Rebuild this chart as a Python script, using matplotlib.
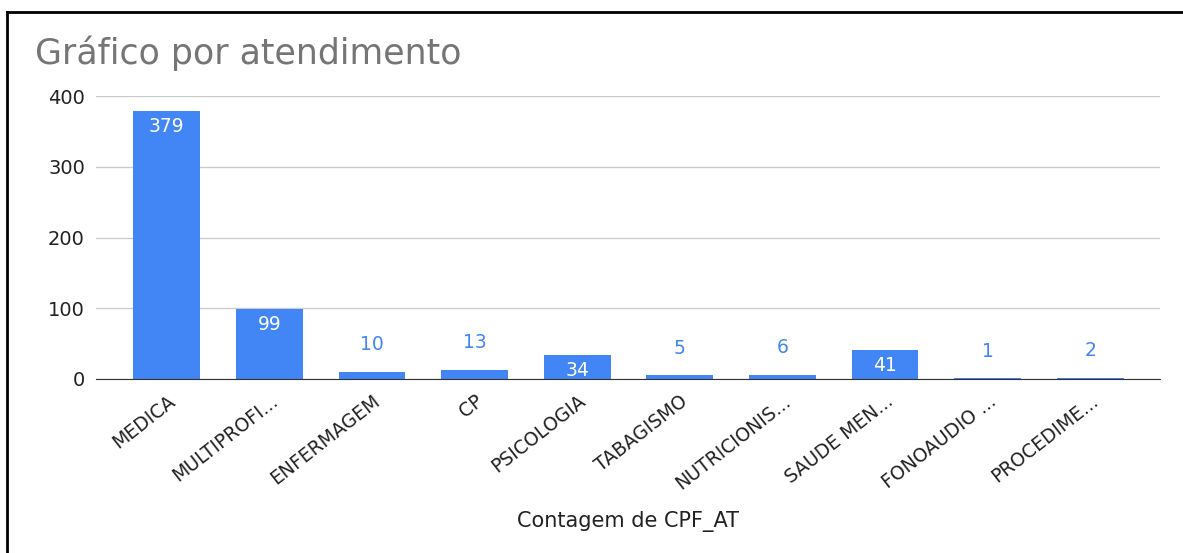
import numpy as np
import matplotlib.pyplot as plt
from matplotlib.lines import Line2D

categories = ['MEDICA', 'MULTIPROFI...', 'ENFERMAGEM', 'CP', 'PSICOLOGIA',
              'TABAGISMO', 'NUTRICIONIS...', 'SAUDE MEN...', 'FONOAUDIO ...',
              'PROCEDIME...']
counts = [379, 99, 10, 13, 34, 5, 6, 41, 1, 2]
yticks = [0, 100, 200, 300, 400]

blue = '#4285F4'
plt.rcParams['font.family'] = ['DejaVu Sans']

fig = plt.figure(figsize=(11.83, 5.53), dpi=100)
ax = fig.add_axes([96 / 1183, 1 - 379 / 553, (1160 - 96) / 1183, (379 - 96) / 553])

x = np.arange(len(categories))
ax.bar(x, counts, width=0.65, color=blue, zorder=3)

for xi, v in zip(x, counts):
    if v > 20:
        ax.annotate(str(v), (xi, v), xytext=(0, -11.5), textcoords='offset points',
                    ha='center', va='center', color='white', fontsize=13.5, zorder=4)
    else:
        ax.annotate(str(v), (xi, v), xytext=(0, 19.5), textcoords='offset points',
                    ha='center', va='center', color=blue, fontsize=13.5, zorder=4)

ax.set_xlim(-0.69, 9.68)
ax.set_ylim(0, 400)
ax.set_yticks(yticks)
ax.set_yticklabels([str(t) for t in yticks], fontsize=14, color='#222222')
ax.set_xticks(x)
ax.set_xticklabels(categories, rotation=38, ha='right', rotation_mode='anchor',
                   fontsize=13.5, color='#222222')
ax.tick_params(axis='both', length=0, pad=8)
ax.tick_params(axis='x', pad=9)
ax.grid(axis='y', color='#cccccc', linewidth=1, zorder=0)
for s in ['top', 'right', 'left']:
    ax.spines[s].set_visible(False)
ax.spines['bottom'].set_color('#333333')
ax.spines['bottom'].set_zorder(5)

fig.text(35 / 1183, 1 - 53 / 553, 'Gráfico por atendimento', fontsize=25,
         color='#757575', va='center', ha='left')
fig.text(628 / 1183, 1 - 522 / 553, 'Contagem de CPF_AT', fontsize=15,
         color='#222222', ha='center', va='center')

# black frame on left and top
fig.add_artist(Line2D([7 / 1183, 7 / 1183], [0, 1 - 12 / 553], color='black', lw=2))
fig.add_artist(Line2D([7 / 1183, 1], [1 - 12 / 553, 1 - 12 / 553], color='black', lw=2))

plt.savefig('out.png', dpi=100)
